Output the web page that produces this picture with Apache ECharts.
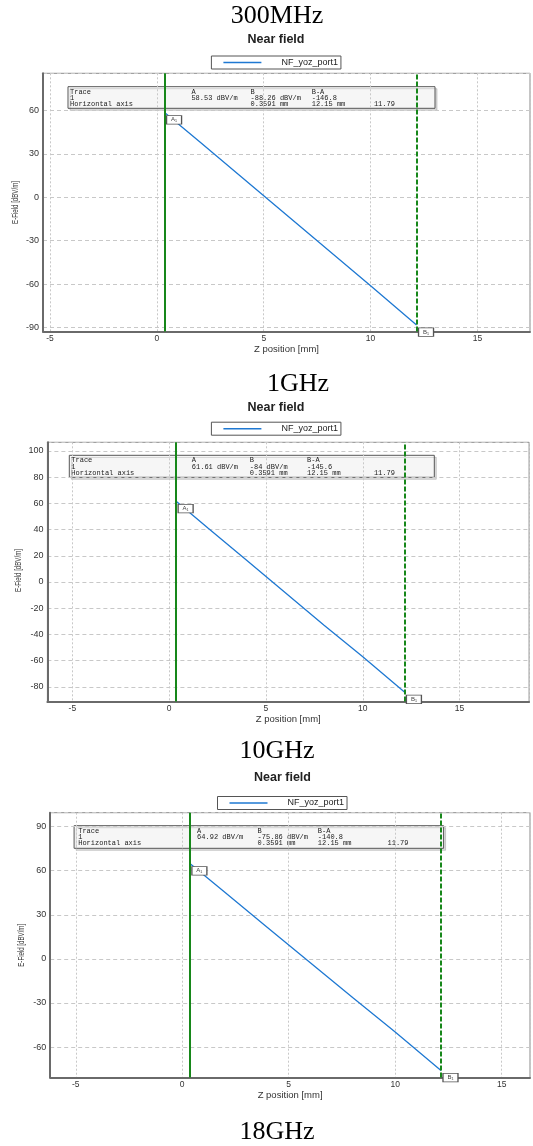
<!DOCTYPE html>
<html><head><meta charset="utf-8">
<script src="https://cdn.jsdelivr.net/npm/echarts@6/dist/echarts.min.js"></script>
<style>html,body{margin:0;padding:0;background:#fff}#c{width:533px;height:1146px}</style>
</head><body><div id="c"></div>
<script>
// ---------------- data ----------------
const frequencyLabels = ['300MHz', '1GHz', '10GHz', '18GHz'];
const seriesName = 'NF_yoz_port1';
const chartTitle = 'Near field';
const xAxisName = 'Z position [mm]';
const yAxisName = 'E-Field [dBV/m]';
const zPosition = [0.3591, 2, 4, 6, 8, 10, 12.15];
const eField300MHz = [58.53, 38.3, 13.4, -11.5, -36.3, -61.2, -88.26];
const eField1GHz = [61.61, 41.2, 16.6, -8.2, -33.0, -57.0, -84.0];
const eField10GHz = [64.92, 45.3, 21.4, -2.5, -26.3, -49.8, -75.86];
const markerAPos = 0.3591;
const markerBPos = 12.15;
const markerNames = ['A\u2081', 'B\u2081'];
const traceHeader = ['Trace', 'A', 'B', 'B-A'];
const traceId = '1';
const traceValueA = ['58.53 dBV/m', '61.61 dBV/m', '64.92 dBV/m'];
const traceValueB = ['-88.26 dBV/m', '-84 dBV/m', '-75.86 dBV/m'];
const traceDiffBA = ['-146.8', '-145.6', '-140.8'];
const axisRowLabel = 'Horizontal axis';
const axisRowValues = ['0.3591 mm', '12.15 mm', '11.79'];
const xRanges = [[-5.33, 17.46], [-6.29, 18.59], [-6.2, 16.33]];
const yRanges = [[-92.8, 85.6], [-91.2, 106.6], [-80.7, 99.5]];
const xTickStep = 5;
const yTickSteps = [30, 20, 30];

// ---------------- layout ----------------
const panels = [
  { vals: eField300MHz, grid: { left: 43, top: 73.3, width: 487.9, height: 258.2 }, xSplit: 5, ySplit: 6,
    title: [277, 29], sub: [276, 46], legend: [211.4, 56], box: [68, 86.7, 367, 21.6],
    cols: [2, 123.4, 182.5, 243.7, 305.9], yName: [15.8, 202.5], xNameGap: 13 },
  { vals: eField1GHz, grid: { left: 47.4, top: 442.3, width: 481.7, height: 259.2 }, xSplit: 5, ySplit: 10,
    title: [298, 397.4], sub: [276, 414.5], legend: [211.4, 422.2], box: [69.3, 455.3, 365, 22],
    cols: [2, 122.5, 180.5, 237.7, 304.6], yName: [18.3, 570.5], xNameGap: 12.5 },
  { vals: eField10GHz, grid: { left: 50.2, top: 812.7, width: 482.3, height: 264.8 }, xSplit: 5, ySplit: 6,
    title: [277, 764], sub: [282.5, 784.5], legend: [217.5, 796.5], box: [74.1, 825.7, 369.5, 22.6],
    cols: [4.1, 123, 183.5, 243.7, 313.4], yName: [21.3, 945.3], xNameGap: 11.5 }
];
const lastTitle = [277, 1145];

const BLUE = '#1e78d2', GREEN = '#17871a';
const sans = 'Liberation Sans, Arial, sans-serif';
const isStep = (v, s) => Math.abs(v / s - Math.round(v / s)) < 1e-6;

const option = { animation: false, grid: [], xAxis: [], yAxis: [], series: [], legend: [], graphic: [] };

panels.forEach((p, i) => {
  option.grid.push(Object.assign({ show: true, borderColor: '#8a8a8a', borderWidth: 1, backgroundColor: 'transparent' }, p.grid));
  option.xAxis.push({
    type: 'value', gridIndex: i, min: xRanges[i][0], max: xRanges[i][1], splitNumber: p.xSplit,
    name: xAxisName, nameLocation: 'middle', nameGap: p.xNameGap,
    nameTextStyle: { fontSize: 9.5, fontFamily: sans, color: '#333' },
    axisLine: { onZero: false, lineStyle: { color: '#6a6a6a', width: 2 } },
    axisTick: { show: false },
    axisLabel: { fontSize: 8.5, fontFamily: sans, color: '#333', margin: 3,
      formatter: v => isStep(v, xTickStep) ? String(Math.round(v)) : '' },
    splitLine: { show: true, lineStyle: { color: '#c8c8c8', type: [2, 2], width: 1 } }
  });
  option.yAxis.push({
    type: 'value', gridIndex: i, min: yRanges[i][0], max: yRanges[i][1], splitNumber: p.ySplit,
    axisLine: { show: true, onZero: false, lineStyle: { color: '#6a6a6a', width: 2 } },
    axisTick: { show: false },
    axisLabel: { fontSize: 9, fontFamily: sans, color: '#333', margin: 4,
      formatter: v => isStep(v, yTickSteps[i]) ? String(Math.round(v)) : '' },
    splitLine: { show: true, lineStyle: { color: '#c8c8c8', type: [4, 3], width: 1 } }
  });
  const last = p.vals.length - 1;
  option.series.push({
    type: 'line', name: seriesName, xAxisIndex: i, yAxisIndex: i,
    data: zPosition.map((z, k) => [z, p.vals[k]]),
    symbol: 'none', lineStyle: { color: BLUE, width: 1.3 }, itemStyle: { color: BLUE },
    markLine: { silent: true, symbol: 'none', label: { show: false },
      data: [
        { xAxis: markerAPos, lineStyle: { color: GREEN, width: 2, type: 'solid' } },
        { xAxis: markerBPos, lineStyle: { color: GREEN, width: 2, type: [5, 2] } }
      ] },
    markPoint: { silent: true, symbol: 'rect', symbolSize: [15, 8.5],
      itemStyle: { color: '#fff', borderColor: '#555', borderWidth: 1 },
      label: { show: true, color: '#444', fontSize: 6, fontFamily: sans, formatter: '{b}' },
      data: [
        { name: markerNames[0], coord: [markerAPos, p.vals[0]], symbolOffset: [9.5, 7.3] },
        { name: markerNames[1], coord: [markerBPos, p.vals[last]], symbolOffset: [9.5, 7.3] }
      ] }
  });
  option.legend.push({
    left: p.legend[0], top: p.legend[1], data: [seriesName], selectedMode: false,
    borderColor: '#555', borderWidth: 1, borderRadius: 0, padding: [2, 3, 2, 12],
    icon: 'rect', itemWidth: 38, itemHeight: 1.5,
    textStyle: { fontSize: 9, fontFamily: sans, color: '#222', padding: [0, 0, 0, 15] }
  });
  option.graphic.push({ type: 'text', x: p.title[0], y: p.title[1], z: 100,
    style: { text: frequencyLabels[i], font: '26px "Liberation Serif", "Times New Roman", serif', fill: '#000',
      textAlign: 'center', textVerticalAlign: 'bottom' } });
  option.graphic.push({ type: 'text', x: p.sub[0], y: p.sub[1], z: 100,
    style: { text: chartTitle, font: 'bold 12.5px "Liberation Sans", Arial, sans-serif', fill: '#222',
      textAlign: 'center', textVerticalAlign: 'bottom' } });
  option.graphic.push({ type: 'text', x: p.yName[0], y: p.yName[1], rotation: Math.PI / 2, scaleX: 0.68, z: 100,
    style: { text: yAxisName, font: '9px "Liberation Sans", Arial, sans-serif', fill: '#333',
      textAlign: 'center', textVerticalAlign: 'middle' } });
  const b = p.box, c = p.cols, rows = [5.3, 11.5, 17.8];
  const mono = '7px "Liberation Mono", "DejaVu Sans Mono", monospace';
  const cells = [
    [0, 0, traceHeader[0]], [1, 0, traceHeader[1]], [2, 0, traceHeader[2]], [3, 0, traceHeader[3]],
    [0, 1, traceId], [1, 1, traceValueA[i]], [2, 1, traceValueB[i]], [3, 1, traceDiffBA[i]],
    [0, 2, axisRowLabel], [2, 2, axisRowValues[0]], [3, 2, axisRowValues[1]], [4, 2, axisRowValues[2]]
  ];
  const children = [{ type: 'rect', shape: { x: 0, y: 0, width: b[2], height: b[3] },
    style: { fill: 'rgba(255,255,255,0.72)', stroke: '#555', lineWidth: 1,
      shadowColor: 'rgba(0,0,0,0.18)', shadowOffsetX: 2, shadowOffsetY: 2, shadowBlur: 0 } }];
  cells.forEach(([ci, ri, t]) => children.push({ type: 'text', x: c[ci], y: rows[ri],
    style: { text: t, font: mono, fill: '#222', textAlign: 'left', textVerticalAlign: 'middle' } }));
  option.graphic.push({ type: 'group', x: b[0], y: b[1], z: 100, children });
});
option.graphic.push({ type: 'text', x: lastTitle[0], y: lastTitle[1], z: 100,
  style: { text: frequencyLabels[3], font: '26px "Liberation Serif", "Times New Roman", serif', fill: '#000',
    textAlign: 'center', textVerticalAlign: 'bottom' } });

const chart = echarts.init(document.getElementById('c'), null, { renderer: 'canvas' });
chart.setOption(option);
</script></body></html>
